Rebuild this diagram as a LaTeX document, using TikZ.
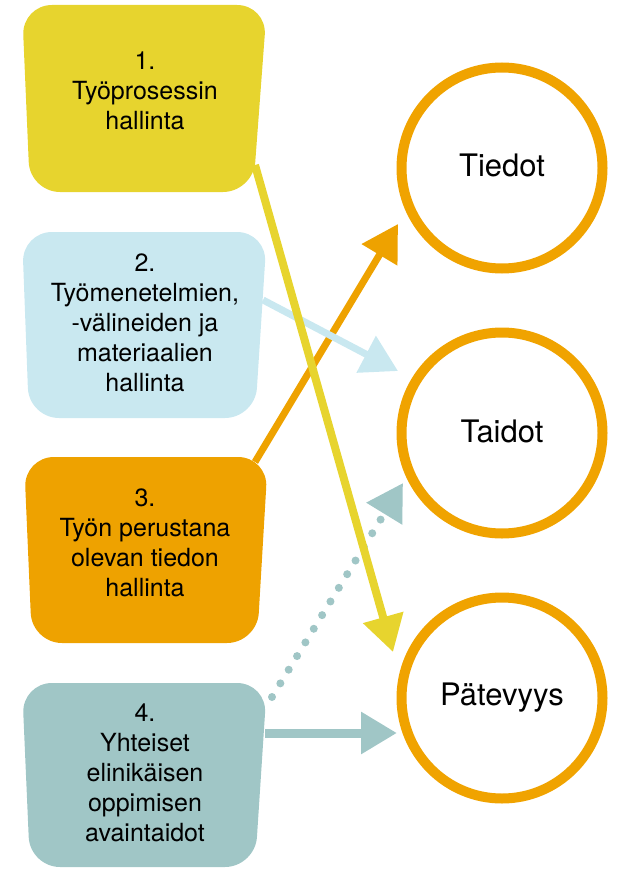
\documentclass[tikz,border=0pt]{standalone}
\usepackage{fontspec}
\setmainfont{TeX Gyre Heros}
\usetikzlibrary{arrows.meta}
\definecolor{yel}{RGB}{231,212,46}
\definecolor{lblue}{RGB}{201,232,240}
\definecolor{orng}{RGB}{238,162,0}
\definecolor{teal2}{RGB}{160,198,198}
\definecolor{corng}{RGB}{240,163,0}
\tikzset{
  boxshape/.style={rounded corners=30pt},
  btext/.style={align=center, font=\fontsize{25}{30}\selectfont, inner sep=0pt},
  circ/.style={circle, draw=corng, line width=10pt, fill=white, minimum size=201pt, inner sep=0pt},
  ctext/.style={font=\fontsize{31}{36}\selectfont, inner sep=0pt, anchor=base},
  bigtip/.style={-{Triangle[length=36pt,width=40pt]}},
}
\begin{document}
\begin{tikzpicture}[x=1pt,y=-1pt]
\useasboundingbox (0,0) rectangle (616,869);
% boxes
\fill[yel, boxshape] (22,5) -- (267,5) -- (253,192) -- (30,192) -- cycle;
\fill[lblue, boxshape] (22,232) -- (267,232) -- (255,418) -- (29,418) -- cycle;
\fill[orng, boxshape] (24,457) -- (268,457) -- (257,643) -- (32,643) -- cycle;
\fill[teal2, boxshape] (22,683) -- (267,683) -- (255,867) -- (30,867) -- cycle;
\node[btext] (b1) at (145,91) {1.\\Työprosessin\\hallinta};
\node[btext] (b2) at (145,323) {2.\\Työmenetelmien,\\-välineiden ja\\materiaalien\\hallinta};
\node[btext] (b3) at (145,543) {3.\\Työn perustana\\olevan tiedon\\hallinta};
\node[btext] (b4) at (145,773) {4.\\Yhteiset\\elinikäisen\\oppimisen\\avaintaidot};
% circles
\node[circ] (tiedot) at (502,168) {};
\node[circ] (taidot) at (502,433) {};
\node[circ] (patevyys) at (502,698) {};
\node[ctext] (tiedotT) at (502,177) {Tiedot};
\node[ctext] (taidotT) at (502,442) {Taidot};
\node[ctext] (patevyysT) at (502,705) {Pätevyys};
% connector ends
\coordinate (y1s) at (255,165);
\coordinate (y1e) at (393,652);
\coordinate (l2s) at (263,300);
\coordinate (l2e) at (398,371);
\coordinate (o3s) at (255,462);
\coordinate (o3e) at (398,224);
\coordinate (t4s) at (272,697);
\coordinate (t4e) at (403,483);
\coordinate (t5s) at (265,733);
\coordinate (t5e) at (397,733);
% connectors
\draw[orng, line width=7pt, bigtip] (o3s) -- (o3e);
\draw[teal2, line width=8pt, line cap=round, dash pattern=on 0pt off 16pt, bigtip] (t4s) -- (t4e);
\draw[teal2, line width=9pt, bigtip] (t5s) -- (t5e);
\draw[lblue, line width=7pt, bigtip] (l2s) -- (l2e);
\draw[yel, line width=8pt, bigtip] (y1s) -- (y1e);
\end{tikzpicture}
\end{document}
